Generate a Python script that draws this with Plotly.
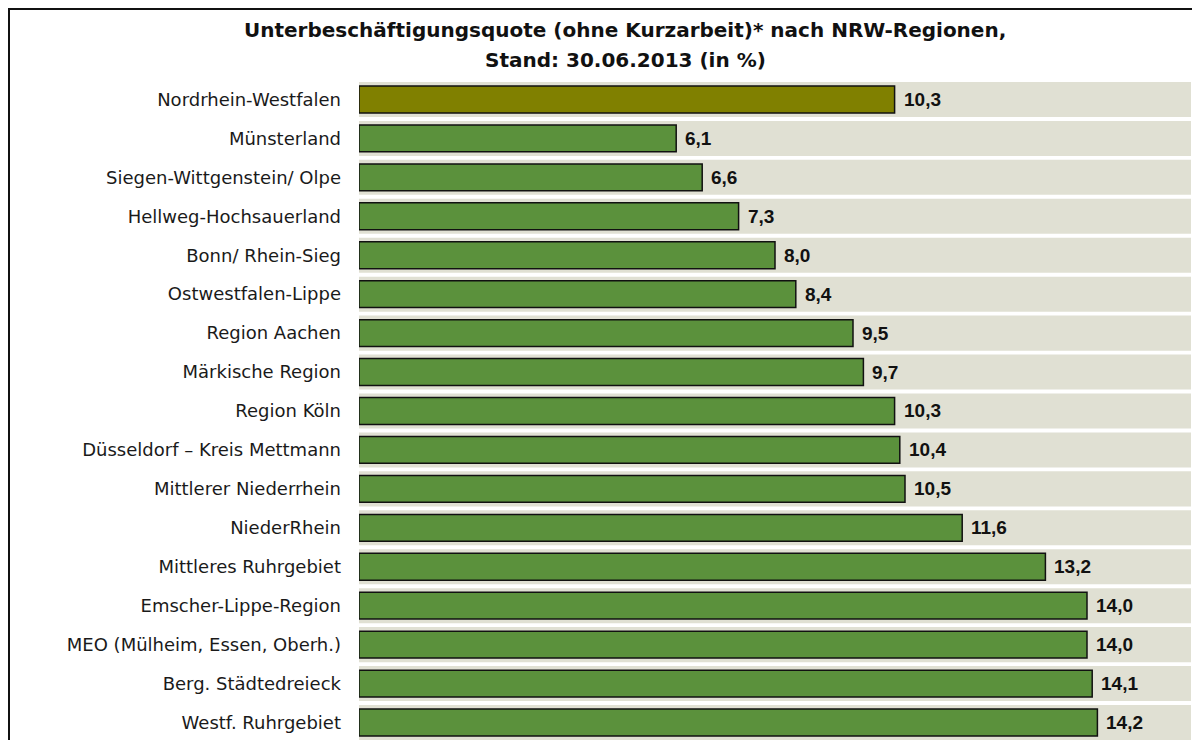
import plotly.graph_objects as go

regions = [
    "Nordrhein-Westfalen",
    "Münsterland",
    "Siegen-Wittgenstein/ Olpe",
    "Hellweg-Hochsauerland",
    "Bonn/ Rhein-Sieg",
    "Ostwestfalen-Lippe",
    "Region Aachen",
    "Märkische Region",
    "Region Köln",
    "Düsseldorf – Kreis Mettmann",
    "Mittlerer Niederrhein",
    "NiederRhein",
    "Mittleres Ruhrgebiet",
    "Emscher-Lippe-Region",
    "MEO (Mülheim, Essen, Oberh.)",
    "Berg. Städtedreieck",
    "Westf. Ruhrgebiet",
]
quote = [10.3, 6.1, 6.6, 7.3, 8.0, 8.4, 9.5, 9.7, 10.3, 10.4, 10.5, 11.6, 13.2, 14.0, 14.0, 14.1, 14.2]

x_max = 16
title_lines = ["Unterbeschäftigungsquote (ohne Kurzarbeit)* nach NRW-Regionen,",
               "Stand: 30.06.2013 (in %)"]

bar_colors = ["#808000"] + ["#5b913c"] * (len(regions) - 1)
labels = [f"{v:.1f}".replace(".", ",") for v in quote]

# page body has an 8px margin; size the figure so it fits the 1200x740 window
W, H = 1192, 732
ml, mr, mt, mb = 351, 9, 72, 0
pw, ph = W - ml - mr, H - mt - mb

fig = go.Figure()
fig.add_trace(go.Bar(
    y=regions, x=[x_max] * len(regions), orientation="h",
    marker=dict(color="#e0e0d3", line=dict(width=0)),
    width=0.9, hoverinfo="skip", showlegend=False,
))
fig.add_trace(go.Bar(
    y=regions, x=quote, orientation="h",
    marker=dict(color=bar_colors, line=dict(color="#111111", width=1.5)),
    width=0.69, hoverinfo="x+y", showlegend=False,
))

for r, v, t in zip(regions, quote, labels):
    fig.add_annotation(
        x=v, y=r, xref="x", yref="y", text=f"<b>{t}</b>", showarrow=False,
        xanchor="left", yanchor="middle", xshift=7,
        font=dict(family="Liberation Sans, Arial, sans-serif", size=19, color="#111111"),
    )

slot = ph / 38.94
fig.update_layout(
    width=W, height=H,
    margin=dict(l=ml, r=mr, t=mt, b=mb),
    barmode="overlay",
    paper_bgcolor="white", plot_bgcolor="white",
    font=dict(family="DejaVu Sans, sans-serif", size=18, color="#1a1a1a"),
    xaxis=dict(range=[0, x_max], visible=False, fixedrange=True),
    yaxis=dict(
        autorange=False,
        range=[-0.5 + slot, -0.5],
        showgrid=False, zeroline=False, showline=False,
        ticks="", ticklabelstandoff=17,
        tickfont=dict(family="DejaVu Sans, sans-serif", size=18, color="#1a1a1a"),
    ),
)

for i, line in enumerate(title_lines):
    ycen = 22 + 30 * i
    fig.add_annotation(
        x=(617 - ml) / pw, y=1 + (mt - ycen) / ph, xref="paper", yref="paper",
        text=f"<b>{line}</b>", showarrow=False, xanchor="center", yanchor="middle",
        font=dict(family="DejaVu Sans, sans-serif", size=20, color="#111111"),
    )

# outer frame (top and left edges visible, rest outside view)
fig.add_shape(
    type="rect", xref="paper", yref="paper",
    x0=(1 - ml) / pw, x1=(W + 20 - ml) / pw,
    y0=-30 / ph, y1=1 + (mt - 1) / ph,
    line=dict(color="#111111", width=2), layer="above",
)

fig.write_html("out.html")
